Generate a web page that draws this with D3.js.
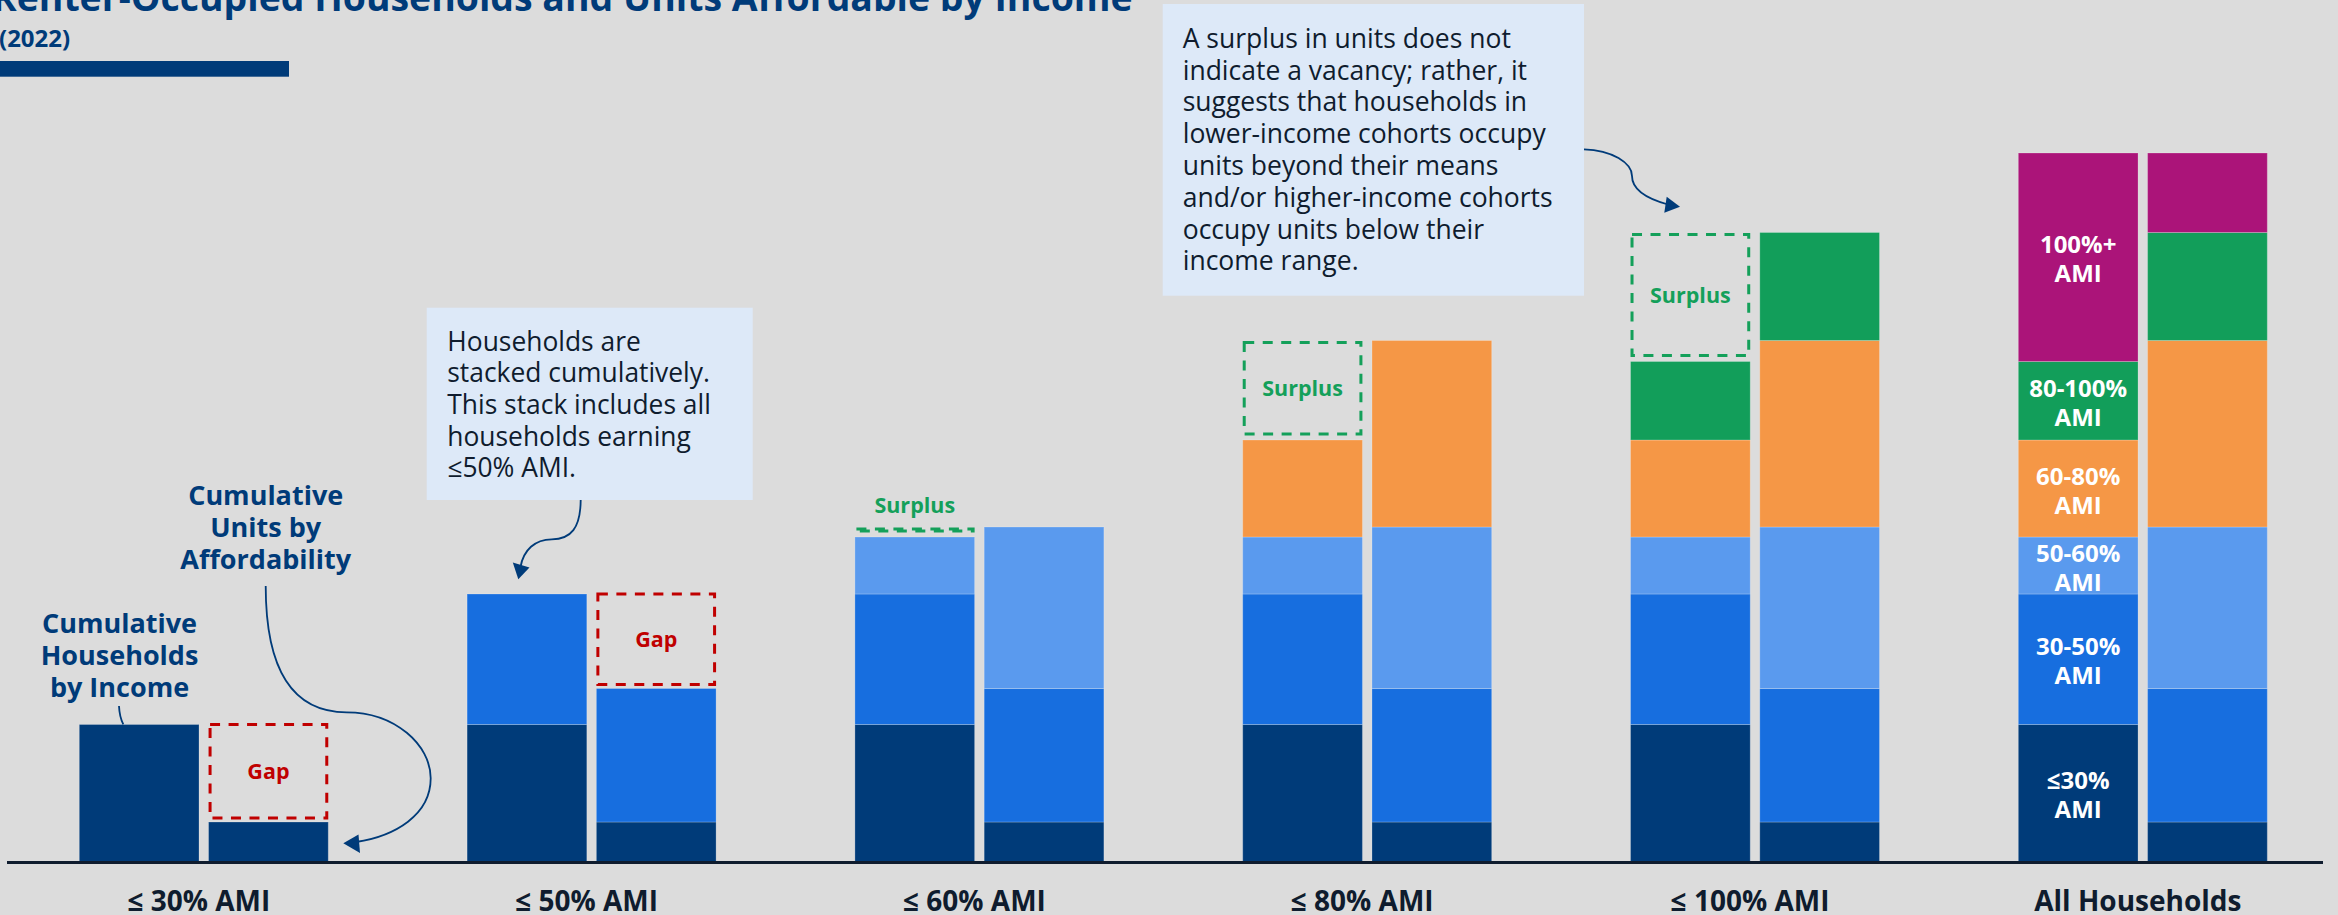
<!DOCTYPE html>
<html>
<head>
<meta charset="utf-8">
<script src="https://cdn.jsdelivr.net/npm/d3@7"></script>
<style>
  html, body { margin: 0; padding: 0; background: #DCDCDC; overflow: hidden; }
  svg { display: block; font-family: "Open Sans", "Noto Sans", sans-serif; }
</style>
</head>
<body>
<svg id="chart" width="2338" height="915"></svg>
<script>
// ---- data -------------------------------------------------------------
const groups = ["≤ 30% AMI", "≤ 50% AMI", "≤ 60% AMI", "≤ 80% AMI", "≤ 100% AMI", "All Households"];
const tiers = ["≤30%", "30-50%", "50-60%", "60-80%", "80-100%", "100%+"];
const tierLabels = [["≤30%", "AMI"], ["30-50%", "AMI"], ["50-60%", "AMI"], ["60-80%", "AMI"], ["80-100%", "AMI"], ["100%+", "AMI"]];
// renter households by income tier, and rental units by affordability tier
const households = [13700, 13050, 5700, 9700, 7850, 20850];
const units = [3950, 13350, 16150, 18650, 10800, 7950];
// number of tiers stacked (cumulatively) in each group
const tiersPerGroup = [1, 2, 3, 4, 5, 6];
const tierColors = ["#003B79", "#176EDF", "#5A9AEE", "#F59746", "#129E5A", "#AB1479"];
const seriesKeys = ["households", "units"];

// ---- setup ------------------------------------------------------------
const W = 2338, H = 915;
const svg = d3.select("#chart");
const navy = "#003B79", ink = "#0F1C2E", red = "#C00000", green = "#14A05A", boxFill = "#DDE9F8";

svg.append("rect").attr("width", W).attr("height", H).attr("fill", "#DCDCDC");

const baseY = 861.5;
const y = d3.scaleLinear().domain([0, d3.sum(households)]).range([baseY, 153]);
const x = d3.scaleBand().domain(groups).range([79.3, 2267.3]).paddingInner(0.358).paddingOuter(0);
const xs = d3.scaleBand().domain(seriesKeys).range([0, x.bandwidth()]).paddingInner(0.074);
const series = { households, units };

// ---- title ------------------------------------------------------------
const title = svg.append("text")
  .attr("x", -8).attr("y", 11)
  .attr("font-size", 36).attr("font-weight", 700).attr("fill", navy)
  .text("Renter-Occupied Households and Units Affordable by Income");
const tl = title.node().getComputedTextLength();
title.attr("font-size", 36 * 1141 / tl);

svg.append("text").attr("x", -1).attr("y", 46.7)
  .attr("font-size", 24).attr("font-weight", 700).attr("fill", navy).text("(2022)");
svg.append("rect").attr("x", 0).attr("y", 61).attr("width", 289).attr("height", 15.7).attr("fill", navy);

// ---- stacked bars -----------------------------------------------------
const segs = [];
groups.forEach((g, i) => {
  seriesKeys.forEach(s => {
    let acc = 0;
    for (let j = 0; j < tiersPerGroup[i]; j++) {
      const v = series[s][j];
      segs.push({ g, s, tier: j, y0: acc, y1: acc + v });
      acc += v;
    }
  });
});

svg.append("g").selectAll("rect").data(segs).join("rect")
  .attr("x", d => x(d.g) + xs(d.s))
  .attr("y", d => y(d.y1))
  .attr("width", xs.bandwidth())
  .attr("height", d => y(d.y0) - y(d.y1))
  .attr("fill", d => tierColors[d.tier])
  .attr("stroke", "rgba(255,255,255,0.22)")
  .attr("stroke-width", 1);

// ---- tier labels inside the "All Households" households stack ----------
const lastGroup = groups[groups.length - 1];
const labelSegs = segs.filter(d => d.g === lastGroup && d.s === "households");
const tl2 = svg.append("g").attr("font-size", 24).attr("font-weight", 700)
  .attr("fill", "#FFFFFF").attr("text-anchor", "middle");
labelSegs.forEach(d => {
  const cx = x(d.g) + xs(d.s) + xs.bandwidth() / 2;
  const cy = (y(d.y0) + y(d.y1)) / 2 + 2;
  const t = tl2.append("text");
  t.append("tspan").attr("x", cx).attr("y", cy - 14.5 + 8.6).text(tierLabels[d.tier][0]);
  t.append("tspan").attr("x", cx).attr("y", cy + 14.5 + 8.6).text(tierLabels[d.tier][1]);
});

// ---- gap / surplus outlines --------------------------------------------
const marks = svg.append("g");
groups.slice(0, groups.length - 1).forEach((g, i) => {
  const h = d3.sum(households.slice(0, tiersPerGroup[i]));
  const u = d3.sum(units.slice(0, tiersPerGroup[i]));
  const bw = xs.bandwidth();
  if (h > u) {
    const bx = x(g) + xs("units");
    const top = y(h), bottom = y(u) - 4;
    marks.append("rect").attr("x", bx + 1.5).attr("y", top).attr("width", bw - 3).attr("height", bottom - top)
      .attr("fill", "none").attr("stroke", red).attr("stroke-width", 3).attr("stroke-dasharray", "10,8.5");
    marks.append("text").attr("x", bx + bw / 2).attr("y", (top + bottom) / 2 + 7.7)
      .attr("text-anchor", "middle").attr("font-size", 21.5).attr("font-weight", 700).attr("fill", red).text("Gap");
  } else {
    const bx = x(g) + xs("households");
    const top = y(u) + 2, bottom = y(h) - 6;
    marks.append("rect").attr("x", bx + 1.5).attr("y", top).attr("width", bw - 3).attr("height", Math.max(bottom - top, 2))
      .attr("fill", "none").attr("stroke", green).attr("stroke-width", 3).attr("stroke-dasharray", "10,8.5");
    const ly = (bottom - top > 40) ? (top + bottom) / 2 + 7.7 : y(u) - 14.5;
    marks.append("text").attr("x", bx + bw / 2).attr("y", ly)
      .attr("text-anchor", "middle").attr("font-size", 21.5).attr("font-weight", 700).attr("fill", green).text("Surplus");
  }
});

// ---- baseline and category axis ---------------------------------------
svg.append("line").attr("x1", 7).attr("x2", 2323).attr("y1", 862.5).attr("y2", 862.5)
  .attr("stroke", ink).attr("stroke-width", 3);

const axis = svg.append("g").attr("transform", `translate(-5, ${baseY})`)
  .call(d3.axisBottom(x).tickSize(0));
axis.select(".domain").remove();
axis.selectAll("text")
  .attr("y", 49.5).attr("dy", 0)
  .attr("font-size", 28).attr("font-weight", 700).attr("fill", ink)
  .attr("font-family", "'Open Sans', 'Noto Sans', sans-serif");

// ---- annotations ------------------------------------------------------
function multiline(lines, x0, y0, lh, opts) {
  const t = svg.append("text").attr("font-size", opts.size).attr("font-weight", opts.weight)
    .attr("fill", opts.fill).attr("text-anchor", opts.anchor || "start");
  lines.forEach((l, k) => t.append("tspan").attr("x", x0).attr("y", y0 + k * lh).text(l));
  return t;
}

multiline(["Cumulative", "Households", "by Income"], 119.5, 632.5, 32, { size: 27, weight: 700, fill: navy, anchor: "middle" });
multiline(["Cumulative", "Units by", "Affordability"], 265.7, 505, 32, { size: 27, weight: 700, fill: navy, anchor: "middle" });

svg.append("rect").attr("x", 426.7).attr("y", 307.7).attr("width", 326).attr("height", 192.3).attr("fill", boxFill);
multiline(["Households are", "stacked cumulatively.", "This stack includes all", "households earning", "≤50% AMI."],
  447.3, 350.6, 31.7, { size: 26.4, weight: 400, fill: ink });

svg.append("rect").attr("x", 1162.7).attr("y", 4).attr("width", 421.3).attr("height", 291.7).attr("fill", boxFill);
multiline(["A surplus in units does not", "indicate a vacancy; rather, it", "suggests that households in",
  "lower-income cohorts occupy", "units beyond their means", "and/or higher-income cohorts",
  "occupy units below their", "income range."],
  1182.7, 47.7, 31.8, { size: 26.5, weight: 400, fill: ink });

// leader lines and arrows
const curves = svg.append("g").attr("fill", "none").attr("stroke", navy).attr("stroke-width", 1.8);
curves.append("path").attr("d", "M119,706 Q119.5,717 123.3,724.3");
curves.append("path").attr("d", "M265.7,586 C265.7,680 300,712.3 346.7,712.3 C395,712.3 430.7,745 430.7,778.3 C430.7,815 395,836 356,842");
curves.append("path").attr("d", "M580.7,500 C580.5,528 571,539.3 551.7,539.3 C535,539.3 523.5,550 520.5,567");
curves.append("path").attr("d", "M1584,149.3 C1612,150 1632,163 1632,176 C1632,190 1648,199 1668,204.5");

const heads = svg.append("g").attr("fill", navy);
heads.append("path").attr("d", "M343.3,843.3 L358.5,834.5 L360,853 Z");
heads.append("path").attr("d", "M518.3,579.3 L512.8,562.5 L529.5,567.5 Z");
heads.append("path").attr("d", "M1680,206.7 L1666.7,196.8 L1664.3,212.8 Z");
</script>
</body>
</html>
